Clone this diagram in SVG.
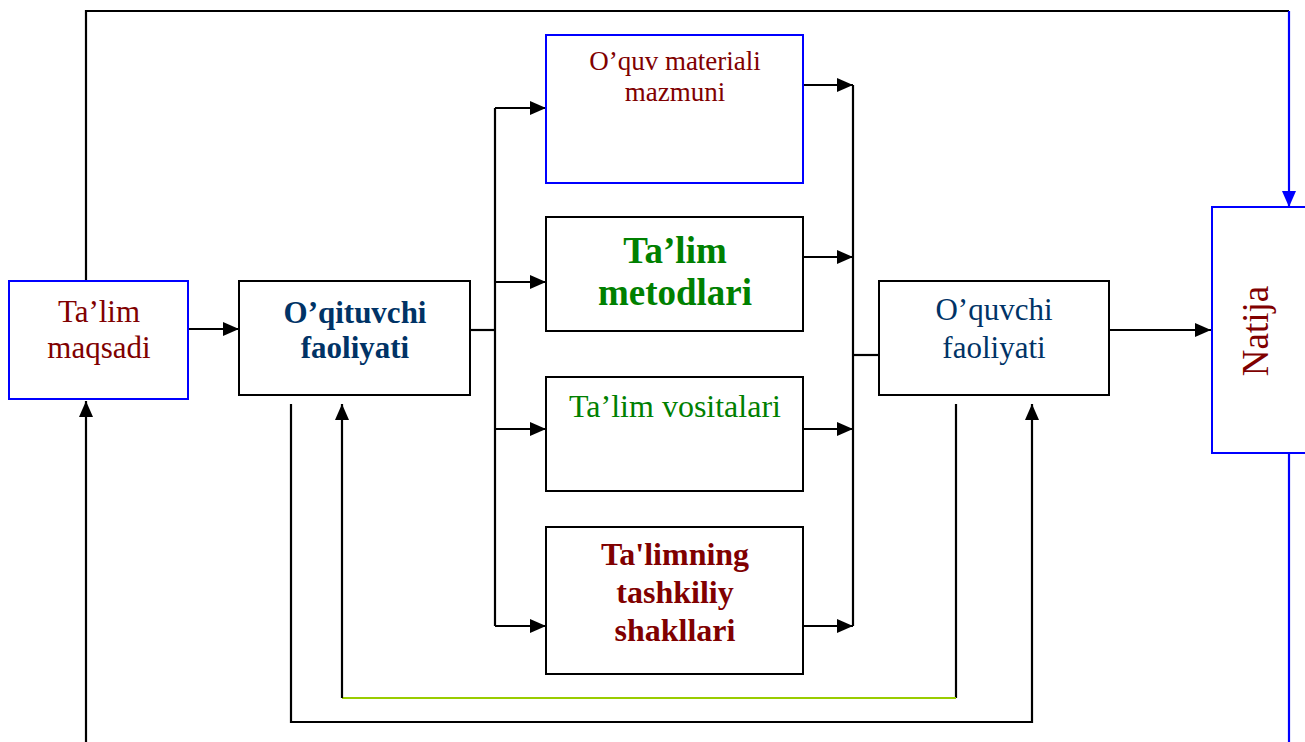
<svg xmlns="http://www.w3.org/2000/svg" width="1305" height="742" viewBox="0 0 1305 742">
<defs>
<marker id="ah" markerWidth="16" markerHeight="14" refX="16" refY="7" orient="auto" markerUnits="userSpaceOnUse"><path d="M0,0 L16,7 L0,14 Z" fill="#000"/></marker>
<marker id="ahb" markerWidth="16" markerHeight="14" refX="16" refY="7" orient="auto" markerUnits="userSpaceOnUse"><path d="M0,0 L16,7 L0,14 Z" fill="#0000ff"/></marker>
<style>
.box{fill:#fff;stroke:#000;stroke-width:2}
.bbox{fill:#fff;stroke:#0000ff;stroke-width:2}
.ln{fill:none;stroke:#000;stroke-width:2.2}
.blue{fill:none;stroke:#0000ff;stroke-width:2.2}
.t{font-family:"Liberation Serif",serif;text-anchor:middle}
</style>
</defs>
<rect width="1305" height="742" fill="#fff"/>
<g id="connectors">
<path class="ln" d="M86,281 V11 H1289"/>
<path class="blue" d="M1289,11 V207" marker-end="url(#ahb)"/>
<path class="blue" d="M1289,453 V742"/>
<path class="ln" d="M188,329 H239" marker-end="url(#ah)"/>
<path class="ln" d="M470,330 H495"/>
<path class="ln" d="M495,108 V626"/>
<path class="ln" d="M495,108 H546" marker-end="url(#ah)"/>
<path class="ln" d="M495,282 H546" marker-end="url(#ah)"/>
<path class="ln" d="M495,429 H546" marker-end="url(#ah)"/>
<path class="ln" d="M495,626 H546" marker-end="url(#ah)"/>
<path class="ln" d="M803,85 H853" marker-end="url(#ah)"/>
<path class="ln" d="M803,257 H853" marker-end="url(#ah)"/>
<path class="ln" d="M803,429 H853" marker-end="url(#ah)"/>
<path class="ln" d="M803,626 H853" marker-end="url(#ah)"/>
<path class="ln" d="M853,85 V626"/>
<path class="ln" d="M853,355 H879"/>
<path class="ln" d="M1109,330 H1211" marker-end="url(#ah)"/>
<path class="ln" d="M291,404 V722 H1032 V404" marker-end="url(#ah)"/>
<path class="ln" d="M956,404 V698"/>
<path fill="none" stroke="#99cc00" stroke-width="2.2" d="M956,698 H342"/>
<path class="ln" d="M342,698 V404" marker-end="url(#ah)"/>
<path class="ln" d="M86,742 V401" marker-end="url(#ah)"/>
</g>
<g id="maqsadi">
<rect class="bbox" x="9" y="281" width="179" height="118"/>
<text class="t" x="99" y="322" font-size="31" fill="#800000">Ta’lim</text>
<text class="t" x="99" y="358" font-size="31" fill="#800000">maqsadi</text>
</g>
<g id="oqituvchi">
<rect class="box" x="239" y="281" width="231" height="114"/>
<text class="t" x="355" y="323" font-size="31" font-weight="bold" fill="#003366">O’qituvchi</text>
<text class="t" x="355" y="358" font-size="31" font-weight="bold" fill="#003366">faoliyati</text>
</g>
<g id="material">
<rect class="bbox" x="546" y="35" width="257" height="148"/>
<text class="t" x="675" y="70" font-size="27" fill="#800000">O’quv materiali</text>
<text class="t" x="675" y="101" font-size="27" fill="#800000">mazmuni</text>
</g>
<g id="metodlari">
<rect class="box" x="546" y="217" width="257" height="114"/>
<text class="t" x="675" y="263" font-size="37" font-weight="bold" fill="#008000">Ta’lim</text>
<text class="t" x="675" y="305" font-size="37" font-weight="bold" fill="#008000">metodlari</text>
</g>
<g id="vositalari">
<rect class="box" x="546" y="377" width="257" height="114"/>
<text class="t" x="675" y="417" font-size="32" fill="#008000">Ta’lim vositalari</text>
</g>
<g id="shakllari">
<rect class="box" x="546" y="527" width="257" height="147"/>
<text class="t" x="675" y="565" font-size="32" font-weight="bold" fill="#800000">Ta'limning</text>
<text class="t" x="675" y="603" font-size="32" font-weight="bold" fill="#800000">tashkiliy</text>
<text class="t" x="675" y="641" font-size="32" font-weight="bold" fill="#800000">shakllari</text>
</g>
<g id="oquvchi">
<rect class="box" x="879" y="281" width="230" height="114"/>
<text class="t" x="994" y="320" font-size="31" fill="#003366">O’quvchi</text>
<text class="t" x="994" y="358" font-size="31" fill="#003366">faoliyati</text>
</g>
<g id="natija">
<rect class="bbox" x="1212" y="207" width="110" height="246"/>
<text class="t" x="0" y="0" font-size="37" fill="#800000" transform="translate(1268,331) rotate(-90)">Natija</text>
</g>
</svg>
